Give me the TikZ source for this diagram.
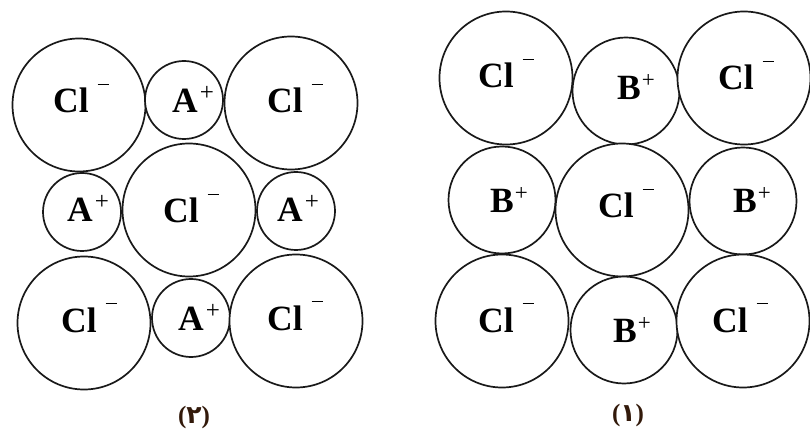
\documentclass[tikz,border=0pt]{standalone}
\usepackage{fontspec}
\setmainfont{Liberation Serif}
\newfontfamily\arabicfont[Script=Arabic]{DejaVu Sans}
\definecolor{lblbrown}{RGB}{50,25,10}
\newcommand\ClMinus{\textbf{Cl}\kern9pt\raisebox{28pt}{\rule{11pt}{1pt}}}
\newcommand\APlus{\textbf{A}\kern2pt\raisebox{12pt}{\fontsize{25}{25}\selectfont\mdseries +}}
\newcommand\BPlus{\textbf{B}\kern1pt\raisebox{12pt}{\fontsize{23}{23}\selectfont\mdseries +}}
\begin{document}
\begin{tikzpicture}[x=1pt,y=-1pt,
  ion/.style={circle,draw=black!90,line width=1.7pt,inner sep=0pt,fill=white},
  cl/.style={ion,minimum size=133pt},
  aion/.style={ion,minimum size=78pt},
  bion/.style={ion,minimum size=107pt},
  lbl/.style={anchor=base west,inner sep=0pt,font=\fontsize{35.5}{35.5}\selectfont},
  captext/.style={inner sep=0pt,text=lblbrown,font=\fontsize{25}{25}\selectfont\bfseries}]
\useasboundingbox (0,0) rectangle (810,435);
% ---- panel (2)
\node[cl]   (l11) at (79,105) {};
\node[aion] (l12) at (184,100) {};
\node[cl]   (l13) at (291,103) {};
\node[aion] (l21) at (82,212) {};
\node[cl]   (l22) at (189,210) {};
\node[aion] (l23) at (296,211) {};
\node[cl]   (l31) at (84,323) {};
\node[aion] (l32) at (191,318) {};
\node[cl]   (l33) at (296,321) {};
\node[lbl] (t11) at (53,113) {\ClMinus};
\node[lbl] (t12) at (172,113) {\APlus};
\node[lbl] (t13) at (267,113) {\ClMinus};
\node[lbl] (t21) at (67,222) {\APlus};
\node[lbl] (t22) at (163,223) {\ClMinus};
\node[lbl] (t23) at (277,222) {\APlus};
\node[lbl] (t31) at (61,332) {\ClMinus};
\node[lbl] (t32) at (178,330) {\APlus};
\node[lbl] (t33) at (267,330) {\ClMinus};
\node[captext] (c2) at (194,417) {({\arabicfont ٢})};
% ---- panel (1)
\node[cl]   (r11) at (506,78) {};
\node[bion] (r12) at (626,91) {};
\node[cl]   (r13) at (744,78) {};
\node[bion] (r21) at (502,200) {};
\node[cl]   (r22) at (622,210) {};
\node[bion] (r23) at (743,201) {};
\node[cl]   (r31) at (502,321) {};
\node[bion] (r32) at (624,330) {};
\node[cl]   (r33) at (743,321) {};
\node[lbl] (s11) at (478,88) {\ClMinus};
\node[lbl] (s12) at (617,100) {\BPlus};
\node[lbl] (s13) at (718,90) {\ClMinus};
\node[lbl] (s21) at (490,213) {\BPlus};
\node[lbl] (s22) at (598,218) {\ClMinus};
\node[lbl] (s23) at (733,213) {\BPlus};
\node[lbl] (s31) at (478,332) {\ClMinus};
\node[lbl] (s32) at (613,342) {\BPlus};
\node[lbl] (s33) at (712,332) {\ClMinus};
\node[captext] (c1) at (628,415) {({\arabicfont ١})};
\end{tikzpicture}
\end{document}
